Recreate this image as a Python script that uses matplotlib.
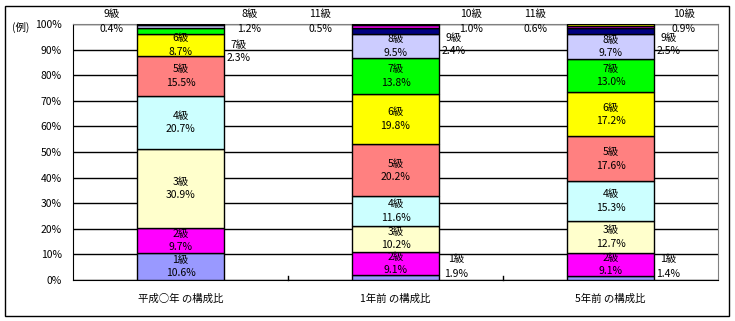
import numpy as np
import matplotlib.pyplot as plt
from matplotlib.patches import Rectangle

plt.rcParams['font.family'] = ['Noto Sans CJK JP', 'DejaVu Sans']

# data
categories = ['平成○年 の構成比', '1年前 の構成比', '5年前 の構成比']
grades = ['1級', '2級', '3級', '4級', '5級', '6級', '7級', '8級', '9級', '10級', '11級']
now_vals = [10.6, 9.7, 30.9, 20.7, 15.5, 8.7, 2.3, 1.2, 0.4, 0.0, 0.0]
y1_vals = [1.9, 9.1, 10.2, 11.6, 20.2, 19.8, 13.8, 9.5, 2.4, 1.0, 0.5]
y5_vals = [1.4, 9.1, 12.7, 15.3, 17.6, 17.2, 13.0, 9.7, 2.5, 0.9, 0.6]
colors = ['#9999FF', '#FF00FF', '#FFFFCC', '#CCFFFF', '#FF8080', '#FFFF00',
          '#00FF00', '#CCCCFF', '#000080', '#FF00FF', '#FFFF00']

data = np.array([now_vals, y1_vals, y5_vals])

# labels that sit outside the bar: (bar, grade index) -> (dx, y of name, y of pct)
outside = {
    (0, 6): (0.27, 91.8, 86.7),
    (0, 7): (0.32, 103.9, 98.0),
    (0, 8): (-0.32, 103.9, 98.0),
    (1, 0): (0.28, 8.2, 2.3),
    (1, 8): (0.27, 94.5, 89.5),
    (1, 9): (0.35, 103.9, 98.0),
    (1, 10): (-0.35, 103.9, 98.0),
    (2, 0): (0.27, 8.2, 2.3),
    (2, 8): (0.27, 94.5, 89.5),
    (2, 9): (0.34, 103.9, 98.0),
    (2, 10): (-0.35, 103.9, 98.0),
}

W, H = 735, 321
fs = 7.5
fig = plt.figure(figsize=(W / 100, H / 100), dpi=100)
fig.patches.append(Rectangle((5 / W, 5 / H), 724 / W, 310 / H, transform=fig.transFigure,
                             fill=False, edgecolor='black', linewidth=1))
ax = fig.add_axes([73 / W, 41 / H, 645 / W, 256 / H])

x = np.arange(len(categories))
bottom = np.zeros(len(categories))
for i, g in enumerate(grades):
    ax.bar(x, data[:, i], bottom=bottom, width=0.405, color=colors[i],
           edgecolor='black', linewidth=1, zorder=3)
    for b in range(len(categories)):
        v = data[b, i]
        if v <= 0:
            continue
        mid = bottom[b] + v / 2
        if (b, i) in outside:
            dx, yn, yp = outside[(b, i)]
            ax.text(b + dx, yn, g, ha='center', va='center', fontsize=fs, clip_on=False)
            ax.text(b + dx, yp, f'{v:.1f}%', ha='center', va='center', fontsize=fs, clip_on=False)
        else:
            ax.text(b, mid + 2.6, g, ha='center', va='center', fontsize=fs, zorder=4)
            ax.text(b, mid - 2.6, f'{v:.1f}%', ha='center', va='center', fontsize=fs, zorder=4)
    bottom += data[:, i]

ax.set_xlim(-0.5, 2.5)
ax.set_ylim(0, 100)
ax.set_yticks(np.arange(0, 101, 10))
ax.set_yticklabels([f'{t}%' for t in range(0, 101, 10)], fontsize=fs)
ax.yaxis.grid(True, color='black', linewidth=1, zorder=0)
ax.set_xticks(x)
ax.set_xticklabels(categories, fontsize=fs)
ax.tick_params(axis='x', length=0, pad=10)
ax.tick_params(axis='y', length=0, pad=8)
for xb in [0.5, 1.5]:
    ax.plot([xb, xb], [0, 1.5], color='black', linewidth=1, clip_on=False, zorder=2)
ax.spines['top'].set_color('#808080')
ax.spines['right'].set_color('#808080')
ax.spines['left'].set_color('black')
ax.spines['bottom'].set_color('black')
fig.text(12 / W, 1 - 27 / H, '(例)', fontsize=fs, va='center')

fig.savefig('out.png', dpi=100)
